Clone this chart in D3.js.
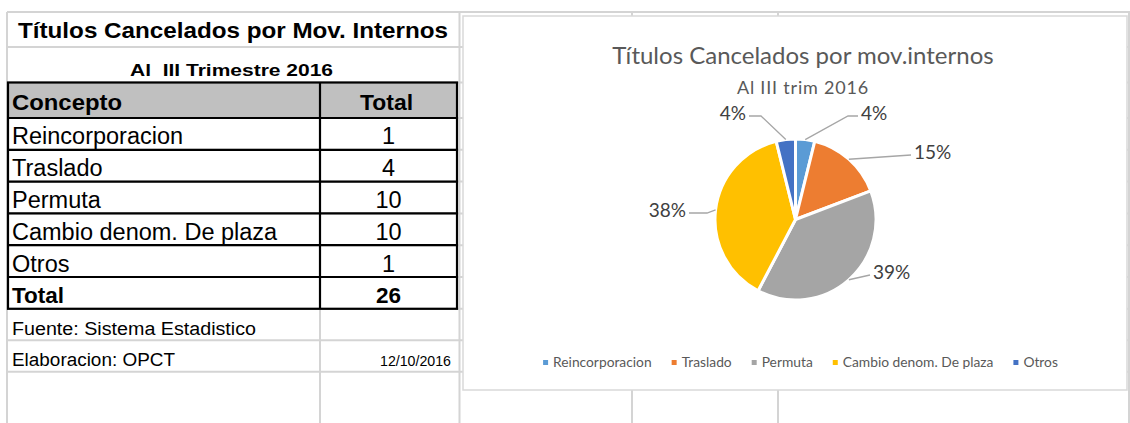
<!DOCTYPE html>
<html>
<head>
<meta charset="utf-8">
<script src="https://cdn.jsdelivr.net/npm/d3@7"></script>
<style>
  html, body { margin: 0; padding: 0; background: #ffffff; }
  svg { display: block; }
</style>
</head>
<body>
<svg id="chart" width="1130" height="423"></svg>
<script>
// ---------- data ----------
const tableTitle = "Títulos Cancelados por Mov. Internos";
const tableSubtitle = "Al  III Trimestre 2016";
const headerLabels = ["Concepto", "Total"];
const categories = ["Reincorporacion", "Traslado", "Permuta", "Cambio denom. De plaza", "Otros"];
const totals = [1, 4, 10, 10, 1];
const totalLabel = "Total";
const grandTotal = 26;
const sourceText = "Fuente: Sistema Estadistico";
const authorText = "Elaboracion: OPCT";
const dateText = "12/10/2016";

const chartTitle = "Títulos Cancelados por mov.internos";
const chartSubtitle = "Al III trim 2016";
const pctLabels = ["4%", "15%", "39%", "38%", "4%"];
const sliceColors = ["#5b9bd5", "#ed7d31", "#a5a5a5", "#ffc000", "#4472c4"];

// ---------- layout ----------
const W = 1130, H = 423;
const svg = d3.select("#chart");
const tableFont = "'Liberation Sans', Arial, sans-serif";
const chartFont = "Lato, 'Open Sans', sans-serif";
const gridColor = "#d4d4d4";

// stretch a text element to a given rendered width (Excel renders wider)
function fitWidth(sel, w) {
  sel.attr("textLength", w).attr("lengthAdjust", "spacingAndGlyphs");
  return sel;
}

const colLeft = 7, colMid = 320, colRight = 457;
const titleTop = 12, subTop = 47, headTop = 82.5, headH = 35.5, rowH = 31.8;
const rowCount = categories.length + 1; // data rows + total
const tableBottom = headTop + headH + rowCount * rowH;
const noteRowH = 31.5;
const rowY = d3.scaleLinear().domain([0, 1]).range([headTop + headH, headTop + headH + rowH]);

// background
svg.append("rect").attr("width", W).attr("height", H).attr("fill", "#fff");

// gray grid lines
const hLines = [titleTop, subTop, headTop];
for (let i = 0; i <= rowCount; i++) hLines.push(rowY(i));
hLines.push(tableBottom + noteRowH, tableBottom + 2 * noteRowH);
const grid = svg.append("g").attr("stroke", gridColor).attr("stroke-width", 2);
hLines.forEach(y => grid.append("line").attr("x1", colLeft).attr("x2", W).attr("y1", y).attr("y2", y));
[colLeft, 459.5, 632, 778, 1129].forEach(x => grid.append("line").attr("x1", x).attr("x2", x).attr("y1", titleTop).attr("y2", H));
grid.append("line").attr("x1", colMid).attr("x2", colMid).attr("y1", tableBottom).attr("y2", H);

// header fill
svg.append("rect").attr("x", colLeft).attr("y", headTop).attr("width", colRight - colLeft).attr("height", headH).attr("fill", "#c0c0c0");

// black borders
const bl = svg.append("g").attr("stroke", "#000").attr("stroke-width", 2.2).attr("fill", "none");
bl.append("rect").attr("x", colLeft + 1).attr("y", headTop).attr("width", colRight - colLeft - 1).attr("height", tableBottom - headTop);
for (let i = 0; i < rowCount; i++) bl.append("line").attr("x1", colLeft).attr("x2", colRight).attr("y1", rowY(i)).attr("y2", rowY(i));
bl.append("line").attr("x1", colMid).attr("x2", colMid).attr("y1", headTop).attr("y2", tableBottom);

// table texts
const tt = svg.append("g").attr("font-family", tableFont).attr("fill", "#000");
fitWidth(tt.append("text").attr("x", 18).attr("y", 37.5)
  .attr("font-size", 22).attr("font-weight", "bold").text(tableTitle), 430);
fitWidth(tt.append("text").attr("x", 130).attr("y", 76)
  .attr("font-size", 16.5).attr("font-weight", "bold").style("white-space", "pre").text(tableSubtitle), 203);
fitWidth(tt.append("text").attr("x", 12).attr("y", headTop + headH - 8).attr("font-size", 22.5).attr("font-weight", "bold").text(headerLabels[0]), 110);
fitWidth(tt.append("text").attr("x", 360).attr("y", headTop + headH - 8)
  .attr("font-size", 22.5).attr("font-weight", "bold").text(headerLabels[1]), 53);

const rowNames = categories.concat([totalLabel]);
const rowVals = totals.concat([grandTotal]);
rowNames.forEach((name, i) => {
  const bold = i === rowNames.length - 1;
  tt.append("text").attr("x", 12).attr("y", rowY(i + 1) - 5.5).attr("font-size", bold ? 22.5 : 23.5)
    .attr("font-weight", bold ? "bold" : "normal").text(name);
  tt.append("text").attr("x", (colMid + colRight) / 2).attr("y", rowY(i + 1) - 5.5).attr("text-anchor", "middle")
    .attr("font-size", bold ? 22.5 : 23.5).attr("font-weight", bold ? "bold" : "normal").text(rowVals[i]);
});
fitWidth(tt.append("text").attr("x", 12).attr("y", tableBottom + noteRowH - 5).attr("font-size", 18).text(sourceText), 244);
fitWidth(tt.append("text").attr("x", 12).attr("y", tableBottom + 2 * noteRowH - 6).attr("font-size", 18).text(authorText), 163);
fitWidth(tt.append("text").attr("x", 380).attr("y", tableBottom + 2 * noteRowH - 6)
  .attr("font-size", 14.5).text(dateText), 71);

// ---------- chart box ----------
const box = {x: 463, y: 16, w: 664, h: 374};
svg.append("rect").attr("x", box.x).attr("y", box.y).attr("width", box.w).attr("height", box.h)
  .attr("fill", "#fff").attr("stroke", "#d9d9d9").attr("stroke-width", 1.5);

const ct = svg.append("g").attr("font-family", chartFont);
ct.append("text").attr("x", 803).attr("y", 64).attr("text-anchor", "middle").attr("fill", "#595959")
  .attr("font-size", 24).text(chartTitle);
ct.append("text").attr("x", 803).attr("y", 94).attr("text-anchor", "middle").attr("fill", "#595959")
  .attr("font-size", 18).attr("letter-spacing", 0.8).text(chartSubtitle);

// pie
const cx = 795.5, cy = 219.5, R = 80.5;
const pie = d3.pie().sort(null).value(d => d);
const arcs = pie(totals);
const arc = d3.arc().innerRadius(0).outerRadius(R);
const pg = svg.append("g").attr("transform", `translate(${cx},${cy})`);
pg.selectAll("path").data(arcs).join("path")
  .attr("d", arc).attr("fill", (d, i) => sliceColors[i])
  .attr("stroke", "#fff").attr("stroke-width", 3).attr("stroke-linejoin", "round");

// labels: end point of leader (relative to pie centre) + horizontal elbow length
const labelLayout = [
  {dx: 62.5, dy: -103.5, h: 10},
  {dx: 115.5, dy: -64.5, h: 0},
  {dx: 74.5, dy: 55.5, h: 0},
  {dx: -106.5, dy: -6.5, h: 18},
  {dx: -46.5, dy: -103.5, h: 12}
];
arcs.forEach((a, i) => {
  const mid = (a.startAngle + a.endAngle) / 2;
  const sx = Math.sin(mid) * R, sy = -Math.cos(mid) * R;
  const L = labelLayout[i];
  const right = L.dx > 0;
  const ex = right ? L.dx - L.h : L.dx + L.h;
  pg.append("polyline")
    .attr("points", [[sx, sy], [ex, L.dy], [L.dx, L.dy]].map(p => p.join(",")).join(" "))
    .attr("fill", "none").attr("stroke", "#a6a6a6").attr("stroke-width", 1.3);
  pg.append("text").attr("x", right ? L.dx + 3 : L.dx - 3).attr("y", L.dy - 4)
    .attr("text-anchor", right ? "start" : "end").attr("dominant-baseline", "central")
    .attr("font-family", chartFont).attr("font-size", 19).attr("fill", "#404040").text(pctLabels[i]);
});

// legend
const lg = svg.append("g").attr("font-family", chartFont).attr("font-size", 13.8).attr("fill", "#595959");
const items = [];
let xPos = 0;
categories.forEach((c, i) => {
  const g = lg.append("g");
  g.append("rect").attr("x", 0).attr("y", -7).attr("width", 5).attr("height", 5).attr("fill", sliceColors[i]);
  const t = g.append("text").attr("x", 10).attr("y", 0).text(c);
  const w = 10 + t.node().getComputedTextLength();
  items.push({g, x: xPos});
  xPos += w + 20;
});
const totalW = xPos - 20;
const legendCenter = 800.5;
items.forEach(it => it.g.attr("transform", `translate(${legendCenter - totalW / 2 + it.x},367)`));
</script>
</body>
</html>
